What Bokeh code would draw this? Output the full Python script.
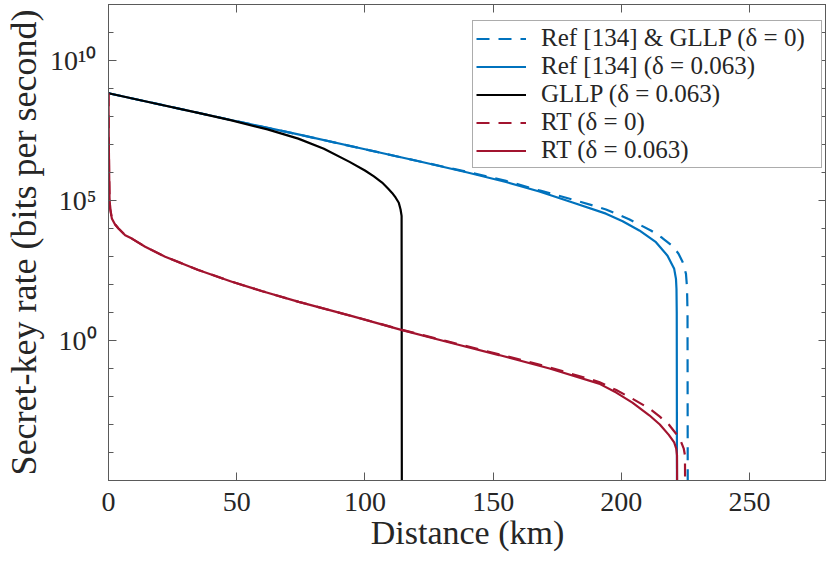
import numpy as np
from bokeh.plotting import figure
from bokeh.models import (Range1d, LinearAxis, LogAxis, FixedTicker,
                          CustomJSTickFormatter, Legend, LegendItem)
from bokeh.embed import file_html
from bokeh.resources import INLINE

# ---------------- data (distance in km, log10 of secret-key rate in bit/s) ----------------
ref_d0_km = [0, 25, 50, 74, 100, 121, 140, 155, 168, 182, 194, 203, 211.5, 216, 220, 222.3, 223.9,
             225.2, 225.6, 225.8, 225.9]
ref_d0_log = [8.83, 8.33, 7.83, 7.36, 6.83, 6.40, 6.02, 5.70, 5.36, 5.01, 4.68, 4.33, 3.93, 3.66, 3.37,
              3.10, 2.80, 2.38, 1.90, 1.0, -6]

ref_d063_km = [0, 25, 50, 74, 100, 121, 140, 155, 168, 181, 194, 200.5, 207, 213.5, 218, 220.6, 221.3,
               221.5, 221.6, 221.7]
ref_d063_log = [8.83, 8.33, 7.83, 7.36, 6.83, 6.40, 6.00, 5.66, 5.32, 4.93, 4.53, 4.26, 3.93, 3.51, 3.03,
                2.56, 2.20, 1.84, 1.0, -6]

gllp_d063_km = [0, 20, 35, 48, 62, 74, 84, 94, 100, 103.5, 106.7, 109, 110.6, 112, 113.2, 113.9, 114.3, 114.4]
gllp_d063_log = [8.83, 8.43, 8.13, 7.86, 7.54, 7.21, 6.85, 6.38, 6.07, 5.86, 5.64, 5.43, 5.27, 5.10, 4.92,
                 4.68, 4.45, -6]

rt_d0_km = [0, 0.1, 0.25, 0.4, 0.66, 1.3, 2.5, 3.9, 6.5, 9.1, 14.3, 22.1, 35, 48.1, 60, 74.2, 95, 114.5,
            133, 152.3, 172, 191.3, 198, 204.3, 210.9, 215, 218.5, 221.5, 223.2, 224.3, 224.8, 224.9]
rt_d0_log = [8.83, 7.3, 6.0, 5.1, 4.71, 4.36, 4.15, 4.0, 3.76, 3.64, 3.35, 2.99, 2.52, 2.10, 1.76, 1.38, 0.87, 0.38,
             -0.05, -0.49, -0.96, -1.48, -1.77, -2.08, -2.43, -2.72, -3.0, -3.35, -3.6, -3.85, -4.1, -6]

rt_d063_km = [0, 0.1, 0.25, 0.4, 0.66, 1.3, 2.5, 3.9, 6.5, 9.1, 14.3, 22.1, 35, 48.1, 60, 74.2, 95, 114.5,
              133, 152.3, 172, 191.3, 198, 204.3, 210.9, 215, 218.5, 220.6, 221.4, 221.7, 221.8]
rt_d063_log = [8.83, 7.3, 6.0, 5.1, 4.71, 4.36, 4.15, 4.0, 3.76, 3.64, 3.35, 2.99, 2.52, 2.10, 1.76, 1.38, 0.87, 0.37,
               -0.07, -0.52, -1.0, -1.54, -1.86, -2.22, -2.67, -3.0, -3.37, -3.64, -3.86, -4.1, -6]

x_ticks = [0, 50, 100, 150, 200, 250]
y_major_ticks = [1e0, 1e5, 1e10]
y_tick_labels = ["10\u2070", "10\u2075", "10\u00b9\u2070"]
y_minor_ticks = [10.0 ** k for k in range(-5, 13)]

labels = ["Ref [134] & GLLP (\u03b4 = 0)", "Ref [134] (\u03b4 = 0.063)", "GLLP (\u03b4 = 0.063)",
          "RT (\u03b4 = 0)", "RT (\u03b4 = 0.063)"]

BLUE = "#0072BD"
RED = "#A2142F"
BLACK = "#000000"
AX = "#5a5a5a"
TXT = "#262626"
FONT = "Liberation Serif"

p = figure(width=826, height=562, output_backend="svg", toolbar_location=None,
           y_axis_type="log", x_range=Range1d(0, 280), y_range=Range1d(1e-5, 1e12),
           min_border_left=108, min_border_right=0, min_border_top=4, min_border_bottom=82)
p.grid.visible = False
p.outline_line_color = AX
p.background_fill_color = "white"
p.border_fill_color = "white"

def r(v):
    return list(10.0 ** np.array(v))

LW = 2.2
g1 = p.line(ref_d0_km, r(ref_d0_log), line_color=BLUE, line_width=LW, line_dash="13 9")
g2 = p.line(ref_d063_km, r(ref_d063_log), line_color=BLUE, line_width=LW)
g3 = p.line(gllp_d063_km, r(gllp_d063_log), line_color=BLACK, line_width=LW)
g4 = p.line(rt_d0_km, r(rt_d0_log), line_color=RED, line_width=LW, line_dash="13 9")
g5 = p.line(rt_d063_km, r(rt_d063_log), line_color=RED, line_width=LW)

empty = CustomJSTickFormatter(code="return ''")

# bottom axis
xa = p.xaxis[0]
xa.ticker = FixedTicker(ticks=x_ticks)
xa.axis_label = "Distance (km)"
xa.axis_label_text_font = FONT
xa.axis_label_text_font_size = "34px"
xa.axis_label_text_font_style = "normal"
xa.axis_label_text_color = TXT
xa.axis_label_standoff = 0
xa.major_label_text_font = FONT
xa.major_label_text_font_size = "28px"
xa.major_label_text_color = TXT
xa.major_label_standoff = 12

# left axis
ya = p.yaxis[0]
ya.ticker = FixedTicker(ticks=y_major_ticks, minor_ticks=y_minor_ticks)
ya.major_label_overrides = {t: s for t, s in zip(y_major_ticks, y_tick_labels)}
ya.major_label_text_font = FONT
ya.major_label_text_font_size = "28px"
ya.major_label_text_color = TXT
ya.major_label_standoff = 12
ya.axis_label = "Secret-key rate (bits per second)"
ya.axis_label_text_font = FONT
ya.axis_label_text_font_size = "36px"
ya.axis_label_text_font_style = "normal"
ya.axis_label_text_color = TXT
ya.axis_label_standoff = 3

top = LinearAxis(ticker=FixedTicker(ticks=x_ticks), formatter=empty,
                 major_label_text_font_size="0px", major_label_standoff=0)
right = LogAxis(ticker=FixedTicker(ticks=y_major_ticks, minor_ticks=y_minor_ticks), formatter=empty,
                major_label_text_font_size="0px", major_label_standoff=0)
p.add_layout(top, "above")
p.add_layout(right, "right")

for ax in [xa, ya, top, right]:
    ax.axis_line_color = AX
    ax.axis_line_width = 1
    ax.major_tick_line_color = AX
    ax.minor_tick_line_color = AX
    ax.major_tick_in = 8
    ax.major_tick_out = 0
    ax.minor_tick_in = 5
    ax.minor_tick_out = 0
for ax in [xa, top]:
    ax.minor_tick_line_color = None

legend = Legend(items=[LegendItem(label=labels[i], renderers=[g]) for i, g in enumerate([g1, g2, g3, g4, g5])],
                location=(364, 312))
legend.margin = 0
legend.padding = 3
legend.spacing = 0
legend.glyph_width = 50
legend.glyph_height = 27
legend.label_height = 27
legend.label_width = 277
legend.label_standoff = 15
legend.label_text_font = FONT
legend.label_text_font_size = "25px"
legend.label_text_color = TXT
legend.border_line_color = AX
legend.border_line_width = 1
legend.background_fill_alpha = 1
p.add_layout(legend, "center")

open("out.html", "w").write(file_html(p, INLINE))
